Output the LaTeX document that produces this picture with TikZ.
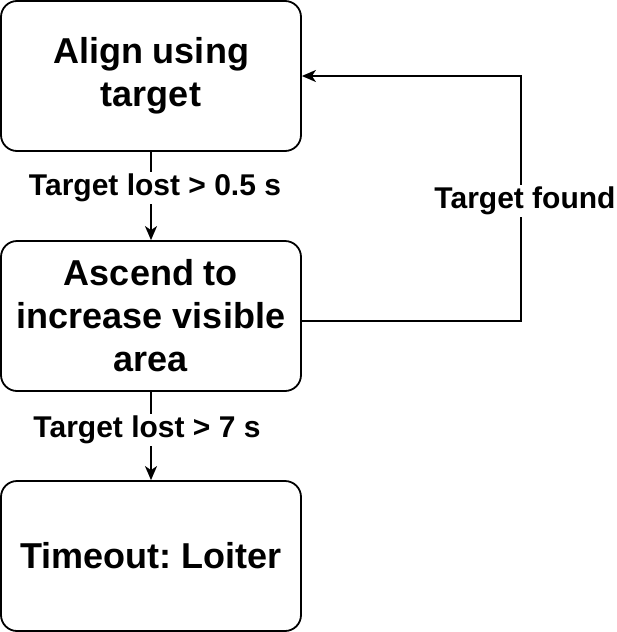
\documentclass[tikz,border=0pt]{standalone}
\usepackage{fontspec}
\setmainfont{Liberation Sans}
\usetikzlibrary{arrows.meta}
\begin{document}
\frenchspacing
\begin{tikzpicture}[x=0.5pt,y=-0.5pt,
 box/.style={draw, line width=0.9pt, rounded corners=8pt, minimum width=150pt, minimum height=75pt, align=center, font=\fontsize{18}{21.5}\selectfont\bfseries, inner sep=0pt},
 lbl/.style={fill=white, font=\fontsize{15}{18}\selectfont\bfseries, inner sep=1pt},
 conn/.style={line width=0.9pt, -{Stealth[length=7pt,width=6pt,inset=2pt]}}]
\useasboundingbox (0,0) rectangle (616,632);
\node[box] (b1) at (151,76) {Align using\\target};
\node[box] (b2) at (151,316) {Ascend to\\increase visible\\area};
\node[box] (b3) at (151,556) {Timeout: Loiter};
\coordinate (r1) at (521,321);
\coordinate (r2) at (521,76);
\draw[conn] (b1) -- node[lbl, pos=0.41, xshift=2pt] {Target lost > 0.5 s} (b2);
\draw[conn] (b2) -- node[lbl, pos=0.43, xshift=-2pt] {Target lost > 7 s} (b3);
\draw[conn] ([yshift=-2.5pt]b2.east) -- (r1) -- node[lbl, pos=0.49, xshift=2pt] {Target found} (r2) -- (b1.east);
\end{tikzpicture}
\end{document}
